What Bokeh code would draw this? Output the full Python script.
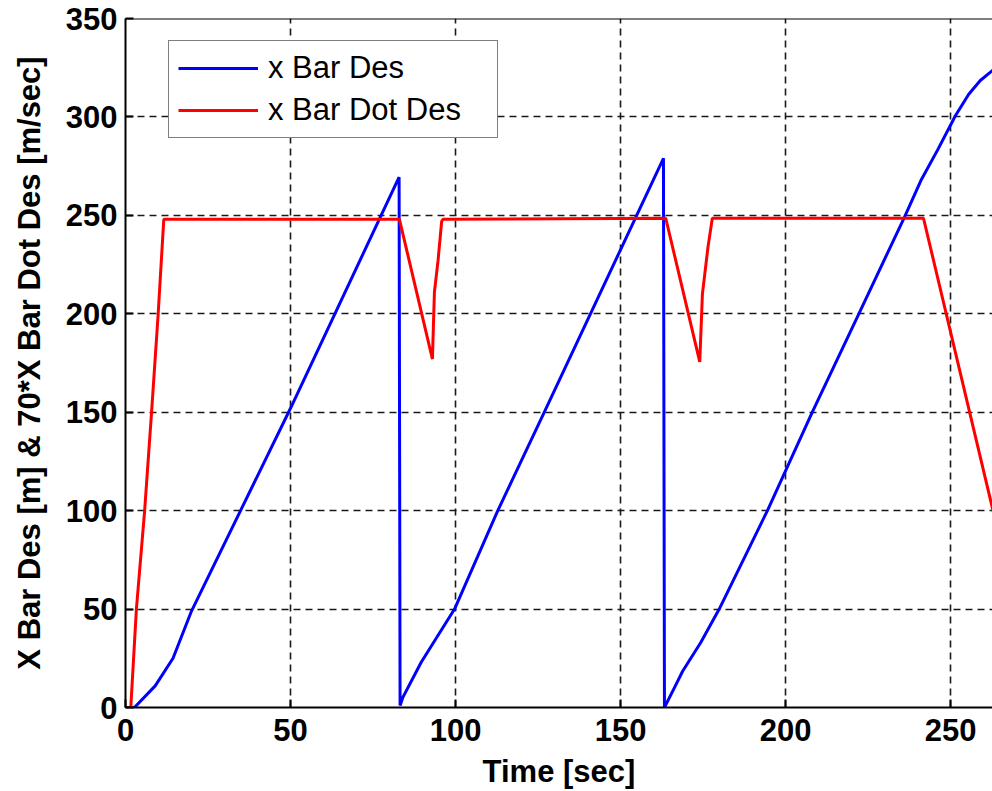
from bokeh.plotting import figure
from bokeh.models import FixedTicker, Span, Legend, LegendItem, Range1d
from bokeh.embed import file_html
from bokeh.resources import INLINE

# x Bar Des (blue)
t_xbar = [0, 2.7, 9.0, 14.4, 20.0, 50.0, 82.9, 83.2, 84.0, 89.6, 99.7, 112.8, 126.9, 163.0,
          163.3, 166.3, 168.8, 174.3, 179.9, 194.5, 208.1, 222.2, 236.0, 241.0, 246.0, 251.5,
          255.5, 259.0, 263.0]
v_xbar = [0, 0, 11, 25, 49, 152, 269.4, 1, 5, 23, 50, 100, 150, 279,
          0, 10, 18.4, 33, 50, 100, 150, 200, 249, 267.7, 283, 300.7,
          311.5, 318.5, 324]

# 70 * x Bar Dot Des (red)
t_xdot = [0, 1.6, 3.3, 5.8, 7.9, 9.9, 11.6, 83.0, 93.0, 93.6, 94.7, 95.8, 96.2,
          163.7, 174.0, 174.8, 176.5, 177.8, 241.8, 263.0]
v_xdot = [0, 0, 50, 100, 150, 200, 248, 248, 177, 211, 227, 247, 248,
          248.5, 175.6, 210, 234, 248.5, 248.5, 99]

x_ticks = [0, 50, 100, 150, 200, 250]
y_ticks = [0, 50, 100, 150, 200, 250, 300, 350]

FONT = "Liberation Sans"

p = figure(width=992, height=791, output_backend="svg", toolbar_location=None,
           x_range=Range1d(0, 262.7), y_range=Range1d(0, 350),
           min_border_left=125, min_border_top=18, min_border_bottom=83, min_border_right=0)
p.outline_line_color = None
p.background_fill_color = "white"
p.border_fill_color = "white"

for ax in (p.xaxis[0], p.yaxis[0]):
    ax.axis_line_width = 2
    ax.axis_line_color = "black"
    ax.major_tick_in = 8
    ax.major_tick_out = 0
    ax.major_tick_line_width = 2
    ax.major_tick_line_color = "black"
    ax.minor_tick_line_color = None
    ax.major_label_text_font = FONT
    ax.major_label_text_font_style = "bold"
    ax.major_label_text_font_size = "31px"
    ax.major_label_text_color = "black"
    ax.axis_label_text_font = FONT
    ax.axis_label_text_font_style = "bold"
    ax.axis_label_text_color = "black"
    ax.axis_label_text_font_size = "31px"

p.xaxis.ticker = FixedTicker(ticks=x_ticks)
p.yaxis.ticker = FixedTicker(ticks=y_ticks)
p.xaxis.axis_label = "Time [sec]"
p.xaxis.major_label_standoff = 11
p.xaxis.axis_label_standoff = 10
p.yaxis.axis_label = "X Bar Des [m] & 70*X Bar Dot Des [m/sec]"
p.yaxis.major_label_standoff = 8
p.yaxis.axis_label_standoff = 16

for g in (p.xgrid[0], p.ygrid[0]):
    g.grid_line_color = "#1a1a1a"
    g.grid_line_dash = "7 5"
    g.grid_line_width = 1.6

p.add_layout(Span(location=350, dimension="width", line_color="black", line_width=2))

r1 = p.line(t_xbar, v_xbar, line_color="#0000ff", line_width=3)
r2 = p.line(t_xdot, v_xdot, line_color="#ff0000", line_width=3)

legend = Legend(items=[LegendItem(label="x Bar Des", renderers=[r1]),
                       LegendItem(label="x Bar Dot Des", renderers=[r2])],
                location=(43, 569))
legend.label_text_font = FONT
legend.label_text_font_size = "31px"
legend.label_text_color = "black"
legend.border_line_color = "black"
legend.border_line_width = 1.5
legend.background_fill_alpha = 1
legend.glyph_width = 80
legend.glyph_height = 34
legend.label_height = 34
legend.label_width = 220
legend.label_standoff = 10
legend.padding = 9
legend.spacing = 6
legend.margin = 0
p.add_layout(legend)

open("out.html", "w").write(file_html(p, INLINE))
